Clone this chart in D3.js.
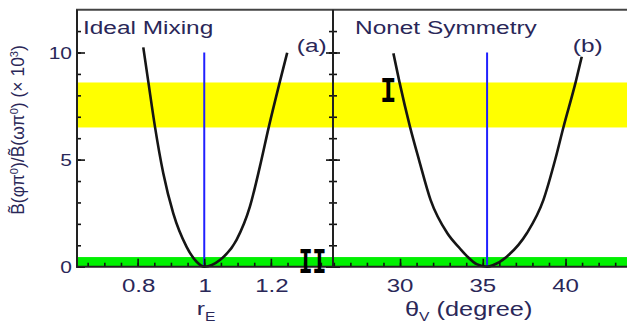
<!DOCTYPE html>
<html><head><meta charset="utf-8">
<script src="https://cdn.jsdelivr.net/npm/d3@7"></script>
<style>
html,body{margin:0;padding:0;background:#fff;}
svg{display:block;}
</style>
</head><body>
<svg id="chart" width="627" height="323"></svg>
<script>
// Panel (a): ideal mixing, ratio versus r_E
const mixR = [0.817, 0.832, 0.852, 0.877, 0.907, 0.947, 0.977, 1.0, 1.047, 1.097, 1.137, 1.167, 1.194, 1.227, 1.249];
const mixB = [10.24, 8.64, 6.54, 4.36, 2.49, 0.93, 0.23, 0.0, 0.31, 1.25, 2.80, 4.67, 6.54, 8.64, 9.99];
// Panel (b): nonet symmetry, ratio versus theta_V
const nonetTheta = [29.60, 29.96, 30.60, 31.15, 31.85, 32.86, 33.62, 34.10, 34.63, 35.26, 35.64, 36.45, 37.66, 38.66, 39.37, 39.87, 40.62, 40.98];
const nonetB = [9.96, 8.64, 6.54, 4.98, 3.11, 1.56, 0.85, 0.45, 0.12, 0.0, 0.08, 0.47, 1.56, 3.11, 4.98, 6.50, 8.64, 9.80];
// Reference values marked with vertical lines
const mixRef = 1.0;
const nonetRef = 35.26;
// Experimental bands (x 10^-3)
const bandI = [6.5, 8.6];
const bandII = [0, 0.45];
// Axis ticks
const yMajor = [0, 5, 10];
const yMinor = d3.range(0, 12, 1);
const mixMajor = [0.8, 1.0, 1.2];
const mixMajorLabels = ["0.8", "1", "1.2"];
const mixMinor = d3.range(0.65, 1.38, 0.05);
const nonetMajor = [30, 35, 40];
const nonetMajorLabels = ["30", "35", "40"];
const nonetMinor = d3.range(26, 45, 1);
const panelTitles = ["Ideal Mixing", "Nonet Symmetry"];
const panelTags = ["(a)", "(b)"];
const regionNames = ["I", "II"];

const svg = d3.select("#chart");
const textColor = "#2a2758";
const sx = 1.3;

const y = d3.scaleLinear().domain([0, 12]).range([266.7, 9.66]);
const xL = d3.scaleLinear().domain([0.618, 1.3865]).range([77, 333]);
const xR = d3.scaleLinear().domain([25.95, 44.5]).range([333, 640]);

// horizontal text, widened
function hText(x, yy, str, size, anchor, opts = {}) {
  const g = svg.append("g").attr("transform", `translate(${x},${yy}) scale(${opts.sx || sx},1)`);
  const t = g.append("text")
    .attr("text-anchor", anchor)
    .attr("font-family", opts.family || "Liberation Sans, Arial, sans-serif")
    .attr("font-size", size)
    .attr("font-weight", opts.weight || "normal")
    .attr("fill", opts.fill || textColor)
    .text(str);
  return t;
}

// bands
svg.append("rect").attr("x", 77).attr("width", 560)
  .attr("y", y(bandI[1])).attr("height", y(bandI[0]) - y(bandI[1]))
  .attr("fill", "#ffff00");
svg.append("rect").attr("x", 77).attr("width", 560)
  .attr("y", y(bandII[1])).attr("height", y(bandII[0]) - y(bandII[1]))
  .attr("fill", "#00f000");

// reference lines
svg.append("line").attr("x1", xL(mixRef)).attr("x2", xL(mixRef))
  .attr("y1", y(10)).attr("y2", y(0)).attr("stroke", "#2020ff").attr("stroke-width", 2);
svg.append("line").attr("x1", xR(nonetRef)).attr("x2", xR(nonetRef))
  .attr("y1", y(10)).attr("y2", y(0)).attr("stroke", "#2020ff").attr("stroke-width", 2);

// curves
const mixLine = d3.line().x(d => xL(d[0])).y(d => y(d[1])).curve(d3.curveMonotoneX);
const nonetLine = d3.line().x(d => xR(d[0])).y(d => y(d[1])).curve(d3.curveMonotoneX);
svg.append("path").attr("d", mixLine(d3.zip(mixR, mixB)))
  .attr("fill", "none").attr("stroke", "#151515").attr("stroke-width", 2.6);
svg.append("path").attr("d", nonetLine(d3.zip(nonetTheta, nonetB)))
  .attr("fill", "none").attr("stroke", "#151515").attr("stroke-width", 2.6);

// ticks
function ticks(axis, tx, ty) {
  const g = svg.append("g").attr("transform", `translate(${tx},${ty})`).call(axis);
  g.select(".domain").remove();
  g.selectAll(".tick line").attr("stroke", "#111").attr("stroke-width", 1.6);
  g.selectAll(".tick text").remove();
}
ticks(d3.axisLeft(y).tickValues(yMinor).tickSize(-4), 77, 0);
ticks(d3.axisLeft(y).tickValues(yMajor).tickSize(-8), 77, 0);
ticks(d3.axisLeft(y).tickValues(yMinor).tickSize(4), 333, 0);
ticks(d3.axisLeft(y).tickValues(yMajor).tickSize(7), 333, 0);
ticks(d3.axisRight(y).tickValues(yMinor).tickSize(4), 333, 0);
ticks(d3.axisRight(y).tickValues(yMajor).tickSize(7), 333, 0);
ticks(d3.axisBottom(xL).tickValues(mixMinor).tickSize(-4), 0, 266.7);
ticks(d3.axisBottom(xL).tickValues(mixMajor).tickSize(-8), 0, 266.7);
ticks(d3.axisBottom(xR).tickValues(nonetMinor).tickSize(-4), 0, 266.7);
ticks(d3.axisBottom(xR).tickValues(nonetMajor).tickSize(-8), 0, 266.7);

// frame
const frame = svg.append("g").attr("stroke", "#222").attr("stroke-width", 2);
frame.append("line").attr("x1", 76).attr("x2", 640).attr("y1", y(12)).attr("y2", y(12)).attr("stroke", "#444");
frame.append("line").attr("x1", 77).attr("x2", 77).attr("y1", y(12)).attr("y2", y(0) + 1);
frame.append("line").attr("x1", 333).attr("x2", 333).attr("y1", y(12)).attr("y2", y(0) + 1);
frame.append("line").attr("x1", 76).attr("x2", 640).attr("y1", y(0)).attr("y2", y(0));

// tick labels
yMajor.forEach(v => hText(72, y(v) + 6, String(v), 16.5, "end", { sx: 1.27 }));
mixMajor.forEach((v, i) => hText(xL(v) + 1, 292, mixMajorLabels[i], 18.5, "middle"));
nonetMajor.forEach((v, i) => hText(xR(v), 292, nonetMajorLabels[i], 18.5, "middle"));

// panel titles and tags
hText(83, 34.3, panelTitles[0], 18.5, "start", { sx: 1.32 });
hText(355, 34.3, panelTitles[1], 18.5, "start", { sx: 1.32 });
hText(326.7, 51.5, panelTags[0], 18.5, "end", { sx: 1.32 });
hText(602.7, 51.5, panelTags[1], 18.5, "end", { sx: 1.32 });

// region markers
const markOpts = { sx: 0.72, family: "Liberation Mono, Courier New, monospace", weight: "bold", fill: "#000" };
hText(xR(29.29), 101.7, regionNames[0], 37, "middle", markOpts);
hText(xL(1.325), 273.3, regionNames[1], 37, "middle", Object.assign({}, markOpts, { sx: 0.62 }));

// x axis titles
{
  const g = svg.append("g").attr("transform", `translate(206,315) scale(${sx},1)`);
  const t = g.append("text").attr("text-anchor", "middle")
    .attr("font-family", "Liberation Sans, Arial, sans-serif").attr("font-size", 19).attr("fill", textColor);
  t.append("tspan").text("r");
  t.append("tspan").attr("font-size", 12).attr("dy", 6).text("E");
}
{
  const g = svg.append("g").attr("transform", `translate(405,316) scale(${sx},1)`);
  const t = g.append("text").attr("text-anchor", "start")
    .attr("font-family", "Liberation Sans, Arial, sans-serif").attr("font-size", 19.5).attr("fill", textColor);
  t.append("tspan").text("θ");
  t.append("tspan").attr("font-size", 12).attr("dy", 5).text("V");
  t.append("tspan").attr("dy", -5).text(" (degree)");
}

// y axis title
{
  const g = svg.append("g").attr("transform", "translate(23.5,130) rotate(-90)");
  const t = g.append("text").attr("text-anchor", "middle")
    .attr("font-family", "Liberation Sans, Arial, sans-serif").attr("font-size", 17.5).attr("fill", textColor);
  t.append("tspan").text("B\u0303(φπ");
  t.append("tspan").attr("font-size", 11).attr("dy", -6).text("0");
  t.append("tspan").attr("dy", 6).text(")/B\u0303(ωπ");
  t.append("tspan").attr("font-size", 11).attr("dy", -6).text("0");
  t.append("tspan").attr("dy", 6).text(") (× 10");
  t.append("tspan").attr("font-size", 11).attr("dy", -6).text("3");
  t.append("tspan").attr("dy", 6).text(")");
}
</script>
</body></html>
